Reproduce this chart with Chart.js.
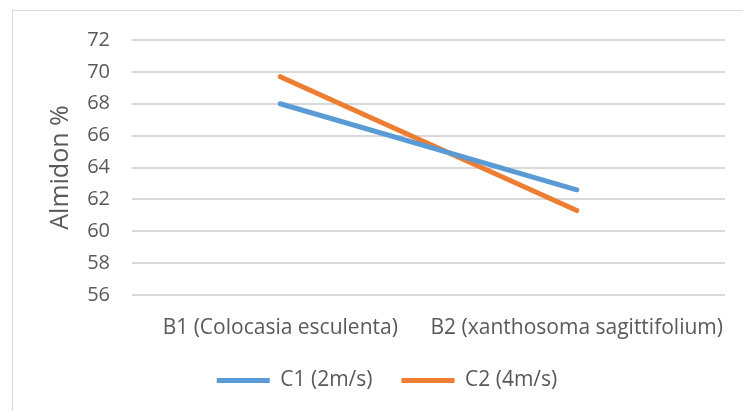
<!DOCTYPE html>
<html>
<head>
<meta charset="utf-8">
<script src="https://cdn.jsdelivr.net/npm/chart.js@4.4.1/dist/chart.umd.min.js"></script>
<style>
  html, body { margin: 0; padding: 0; background: #fff; }
  #wrap { position: relative; width: 743px; height: 411px; overflow: hidden; }
  #frame { position: absolute; left: 12px; top: 10px; width: 800px; height: 500px;
           border-top: 1px solid #d9d9d9; border-left: 1px solid #d9d9d9; }
  canvas { position: absolute; left: 0; top: 0; }
</style>
</head>
<body>
<div id="wrap">
  <div id="frame"></div>
  <canvas id="c" width="743" height="411"></canvas>
</div>
<script>
const categories = ['B1 (Colocasia esculenta)', 'B2 (xanthosoma sagittifolium)'];
const seriesNames = ['C1 (2m/s)', 'C2 (4m/s)'];
const c1Values = [68.0, 62.6];
const c2Values = [69.7, 61.3];
const yTitle = 'Almidon %';
const yMin = 56, yMax = 72, yStep = 2;

const FONT = '"Open Sans", Lato, sans-serif';
const TXT = '#595959';

new Chart(document.getElementById('c'), {
  type: 'line',
  data: {
    labels: categories,
    datasets: [
      { label: seriesNames[0], data: c1Values, borderColor: '#5B9BD5', backgroundColor: '#5B9BD5',
        borderWidth: 5, pointRadius: 0, borderCapStyle: 'round', tension: 0 },
      { label: seriesNames[1], data: c2Values, borderColor: '#ED7D31', backgroundColor: '#ED7D31',
        borderWidth: 5, pointRadius: 0, borderCapStyle: 'round', tension: 0 }
    ]
  },
  options: {
    responsive: false,
    animation: false,
    layout: { padding: { left: 31, right: 0, top: 40, bottom: 10 } },
    plugins: {
      tooltip: { enabled: false },
      legend: {
        position: 'bottom',
        labels: {
          font: { family: FONT, size: 21 },
          color: TXT,
          boxWidth: 53,
          boxHeight: 5,
          padding: 29,
          generateLabels(chart) {
            return chart.data.datasets.map((d, i) => ({
              text: d.label, fillStyle: d.borderColor, strokeStyle: d.borderColor,
              lineWidth: 0, datasetIndex: i, fontColor: TXT
            }));
          }
        }
      }
    },
    scales: {
      x: {
        offset: true,
        afterFit(scale) { scale.height = 46; },
        grid: { display: false },
        border: { display: false },
        ticks: { font: { family: FONT, size: 21 }, color: TXT, padding: 12, maxRotation: 0, autoSkip: false }
      },
      y: {
        min: yMin, max: yMax,
        afterFit(scale) { scale.width = 101; },
        ticks: { stepSize: yStep, font: { family: FONT, size: 20 }, color: TXT, padding: 22 },
        grid: { color: '#d9d9d9', lineWidth: 2, drawTicks: false },
        border: { display: false },
        title: { display: true, text: yTitle, font: { family: FONT, size: 25 }, color: TXT, padding: { top: 15, bottom: 0 } }
      },
      yRightSpace: {
        position: 'right',
        display: true,
        afterFit(scale) { scale.width = 18; },
        grid: { display: false, drawOnChartArea: false },
        ticks: { display: false },
        border: { display: false }
      }
    }
  }
});
</script>
</body>
</html>
